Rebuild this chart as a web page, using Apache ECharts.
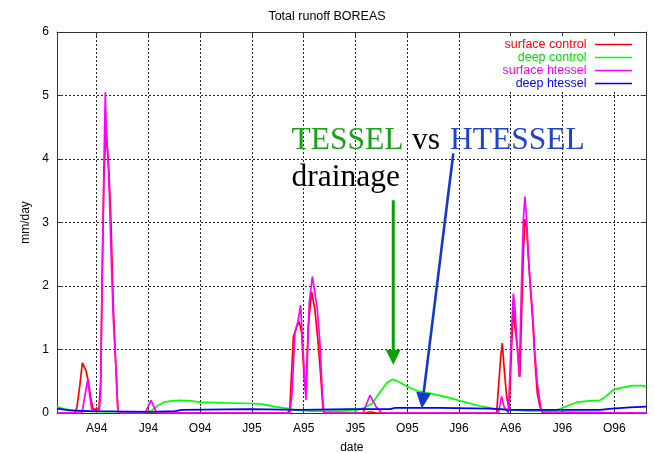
<!DOCTYPE html>
<html>
<head>
<meta charset="utf-8">
<script src="https://cdn.jsdelivr.net/npm/echarts@6/dist/echarts.min.js"></script>
<style>html,body{margin:0;padding:0;background:#fff}#c{width:654px;height:453px}</style>
</head>
<body>
<div id="c"></div>
<script>
// x = months since 1 Jan 1994, y = mm/day
const tickPos = [3, 6, 9, 12, 15, 18, 21, 24, 27, 30, 33];
const tickLabels = ['A94', 'J94', 'O94', 'J95', 'A95', 'J95', 'O95', 'J96', 'A96', 'J96', 'O96'];
const yTicks = [0, 1, 2, 3, 4, 5, 6];

const surfaceControl = [
  [0.70, 0], [1.74, 0], [1.86, 0.1], [2.03, 0.45], [2.17, 0.79], [2.38, 0.67], [2.50, 0.52], [2.67, 0.22],
  [2.79, 0.06], [3.13, 0.06], [3.23, 0.5], [3.31, 2.0], [3.42, 3.7], [3.54, 4.55], [3.63, 4.1], [3.71, 3.8],
  [3.83, 3.0], [3.96, 1.7], [4.10, 0.8], [4.23, 0.03], [4.35, 0], [14.09, 0], [14.20, 0.1], [14.40, 1.2],
  [14.59, 1.36], [14.74, 1.44], [14.88, 1.26], [15.02, 0.57], [15.13, 0.3], [15.26, 1.36], [15.46, 1.91],
  [15.65, 1.62], [15.84, 1.1], [15.98, 0.6], [16.12, 0.05], [16.23, 0], [18.6, 0], [18.85, 0.02], [19.2, 0],
  [26.18, 0], [26.42, 0.89], [26.51, 1.1], [26.61, 0.73], [26.76, 0.26], [26.91, 0.05], [27.05, 1.04],
  [27.15, 1.67], [27.24, 1.36], [27.38, 1.04], [27.53, 0.57], [27.63, 1.57], [27.73, 2.51], [27.82, 3.05],
  [27.92, 2.93], [28.02, 2.46], [28.11, 2.09], [28.27, 1.46], [28.40, 0.83], [28.54, 0.31], [28.69, 0.1],
  [28.81, 0.02], [28.93, 0], [34.88, 0]
];
const deepControl = [
  [0.70, 0.10], [1.16, 0.06], [2.03, 0.03], [3.19, 0.02], [5.97, 0.02], [6.21, 0.04], [6.55, 0.12],
  [6.90, 0.17], [7.36, 0.19], [7.83, 0.20], [8.41, 0.19], [8.99, 0.17], [10.44, 0.16], [12.00, 0.15],
  [12.58, 0.14], [13.33, 0.10], [14.09, 0.07], [14.50, 0.05], [15.36, 0.03], [17.10, 0.03], [18.03, 0.04],
  [18.49, 0.08], [18.96, 0.15], [19.42, 0.33], [19.83, 0.48], [20.17, 0.53], [20.58, 0.48], [20.98, 0.42],
  [21.56, 0.35], [22.32, 0.31], [23.30, 0.25], [24.23, 0.18], [25.22, 0.11], [26.03, 0.07], [27.07, 0.05],
  [28.11, 0.03], [29.62, 0.04], [30.08, 0.09], [30.84, 0.17], [31.59, 0.19], [32.17, 0.20], [32.46, 0.25],
  [32.92, 0.36], [33.45, 0.40], [34.03, 0.43], [34.61, 0.43], [34.88, 0.42]
];
const surfaceHtessel = [
  [0.70, 0], [2.15, 0], [2.27, 0.2], [2.48, 0.52], [2.61, 0.25], [2.73, 0.02], [2.79, 0.05], [3.15, 0.05],
  [3.23, 0.3], [3.31, 2.0], [3.42, 3.9], [3.50, 5.05], [3.57, 4.3], [3.65, 4.1], [3.74, 3.4], [3.86, 2.3],
  [3.96, 1.5], [4.10, 0.8], [4.23, 0.02], [4.35, 0], [5.80, 0], [6.15, 0.2], [6.49, 0], [14.20, 0],
  [14.32, 0.3], [14.49, 1.26], [14.67, 1.45], [14.82, 1.7], [14.96, 1.0], [15.13, 0.2], [15.32, 1.73],
  [15.50, 2.15], [15.65, 1.89], [15.79, 1.62], [15.94, 1.1], [16.08, 0.31], [16.17, 0], [18.43, 0],
  [18.84, 0.28], [19.19, 0.1], [19.54, 0], [26.28, 0], [26.47, 0.26], [26.61, 0.1], [26.86, 0], [27.05, 1.3],
  [27.15, 1.88], [27.24, 1.67], [27.34, 1.2], [27.49, 0.57], [27.63, 2.09], [27.73, 3.04], [27.82, 3.41],
  [27.92, 3.04], [28.02, 2.51], [28.11, 2.09], [28.27, 1.57], [28.40, 0.94], [28.54, 0.47], [28.69, 0.18],
  [28.79, 0.02], [28.87, 0], [34.88, 0]
];
const deepHtessel = [
  [0.70, 0.07], [1.45, 0.04], [2.61, 0.03], [6.09, 0.02], [7.54, 0.03], [7.94, 0.05], [11.89, 0.06],
  [14.78, 0.05], [17.68, 0.06], [20.00, 0.06], [20.29, 0.08], [22.90, 0.08], [25.80, 0.07], [26.95, 0.05],
  [32.17, 0.05], [32.87, 0.07], [33.91, 0.09], [34.88, 0.10]
];

// annotation arrows in data coordinates [from, to]
const drainageArrow = [[20.19, 3.35], [20.19, 0.76]];
const htesselArrow = [[23.67, 4.09], [21.84, 0.07]];

const FONT = 'Liberation Sans';
const labelMap = {};
tickPos.forEach((v, i) => { labelMap[v] = tickLabels[i]; });

const chart = echarts.init(document.getElementById('c'), null, { renderer: 'canvas' });

const gridLine = { show: true, lineStyle: { color: '#222', width: 1, type: [2, 2] } };
const axisLine = { show: true, onZero: false, lineStyle: { color: '#333', width: 1 } };
const lineW = 1.7;

chart.setOption({
  animation: false,
  backgroundColor: '#fff',
  title: {
    text: 'Total runoff BOREAS', left: 'center', top: 5,
    textStyle: { fontFamily: FONT, fontSize: 12.5, fontWeight: 'normal', color: '#000' }
  },
  legend: {
    orient: 'vertical', align: 'right', right: 18, top: 36,
    padding: [2, 4, 2, 6], itemGap: 0, itemWidth: 37, itemHeight: 1.5,
    backgroundColor: '#fff', icon: 'rect',
    formatter: n => n + ' ',
    textStyle: { fontFamily: FONT, fontSize: 12.5, lineHeight: 12.6 },
    data: [
      { name: 'surface control', textStyle: { color: '#ff0000' } },
      { name: 'deep control', textStyle: { color: '#00e000' } },
      { name: 'surface htessel', textStyle: { color: '#ff00ff' } },
      { name: 'deep htessel', textStyle: { color: '#0000ff' } }
    ]
  },
  grid: { left: 57, right: 7.3, top: 32, bottom: 40, containLabel: false, outerBoundsMode: 'none' },
  xAxis: [{
    type: 'value', min: 0.7, max: 34.88, position: 'bottom',
    axisLine: axisLine,
    axisTick: { show: true, inside: true, length: 6, customValues: tickPos, lineStyle: { color: '#333' } },
    axisLabel: { customValues: tickPos, formatter: v => labelMap[v] || '', color: '#000', fontFamily: FONT, fontSize: 12, margin: 10 },
    splitLine: gridLine,
    name: 'date', nameLocation: 'middle', nameGap: 28.5,
    nameTextStyle: { fontFamily: FONT, fontSize: 12, color: '#000' }
  }, {
    type: 'value', min: 0.7, max: 34.88, position: 'top',
    axisLine: axisLine,
    axisTick: { show: true, inside: true, length: 6, customValues: tickPos, lineStyle: { color: '#333' } },
    axisLabel: { show: false },
    splitLine: { show: false }
  }],
  yAxis: [{
    type: 'value', min: 0, max: 6, interval: 1, position: 'left',
    axisLine: axisLine,
    axisTick: { show: true, inside: true, length: 6, lineStyle: { color: '#333' } },
    axisLabel: { color: '#000', fontFamily: FONT, fontSize: 12, margin: 8, formatter: v => String(v) },
    splitLine: gridLine,
    name: 'mm/day', nameLocation: 'middle', nameGap: 20,
    nameTextStyle: { fontFamily: FONT, fontSize: 12, color: '#000' }
  }, {
    type: 'value', min: 0, max: 6, interval: 1, position: 'right',
    axisLine: axisLine,
    axisTick: { show: true, inside: true, length: 6, lineStyle: { color: '#333' } },
    axisLabel: { show: false },
    splitLine: { show: false }
  }],
  series: [
    { name: 'surface control', type: 'line', data: surfaceControl, color: '#ff0000', showSymbol: false, symbol: 'none', lineStyle: { width: lineW } },
    { name: 'deep control', type: 'line', data: deepControl, color: '#00ff00', showSymbol: false, symbol: 'none', lineStyle: { width: lineW } },
    { name: 'surface htessel', type: 'line', data: surfaceHtessel, color: '#ff00ff', showSymbol: false, symbol: 'none', lineStyle: { width: lineW } },
    { name: 'deep htessel', type: 'line', data: deepHtessel, color: '#0000ff', showSymbol: false, symbol: 'none', lineStyle: { width: lineW } }
  ]
});

function arrowEls(a, color, lw, headLen, headHalf) {
  const p0 = chart.convertToPixel({ gridIndex: 0 }, a[0]);
  const p1 = chart.convertToPixel({ gridIndex: 0 }, a[1]);
  const dx = p1[0] - p0[0], dy = p1[1] - p0[1];
  const L = Math.sqrt(dx * dx + dy * dy);
  const ux = dx / L, uy = dy / L;
  const bx = p1[0] - ux * headLen, by = p1[1] - uy * headLen;
  const px = -uy * headHalf, py = ux * headHalf;
  return [
    { type: 'line', shape: { x1: p0[0], y1: p0[1], x2: bx, y2: by }, style: { stroke: color, lineWidth: lw }, z: 10 },
    { type: 'polygon', shape: { points: [[bx + px, by + py], [bx - px, by - py], [p1[0], p1[1]]] }, style: { fill: color }, z: 10 }
  ];
}

const SERIF = '31.5px "Liberation Serif"';
chart.setOption({
  graphic: [
    { type: 'text', x: 291.5, y: 141, z: 10, style: { text: 'TESSEL', font: SERIF, fill: '#18a218', verticalAlign: 'middle' } },
    { type: 'text', x: 412, y: 141, z: 10, style: { text: 'vs', font: SERIF, fill: '#000', verticalAlign: 'middle' } },
    { type: 'text', x: 450, y: 141, z: 10, style: { text: 'HTESSEL', font: SERIF, fill: '#1e44cc', verticalAlign: 'middle' } },
    { type: 'text', x: 291.5, y: 178, z: 10, style: { text: 'drainage', font: SERIF, fill: '#000', verticalAlign: 'middle' } }
  ].concat(arrowEls(drainageArrow, '#0c9e0c', 3, 15, 7.5), arrowEls(htesselArrow, '#1238cc', 2.6, 16, 7.5))
});
</script>
</body>
</html>
